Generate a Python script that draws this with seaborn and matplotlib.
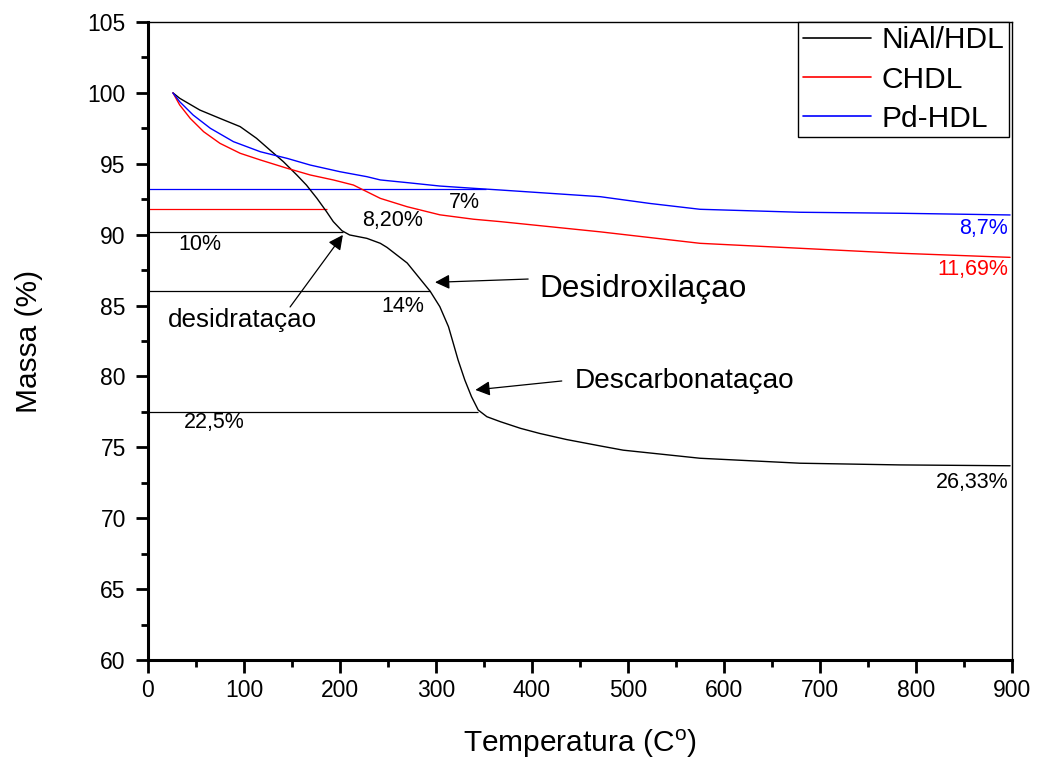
import matplotlib
matplotlib.use("Agg")
import matplotlib.pyplot as plt
import seaborn as sns
import pandas as pd
from matplotlib.ticker import MultipleLocator

# ---------------- data ----------------
series_names = ["NiAl/HDL", "CHDL", "Pd-HDL"]
series_colors = ["black", "red", "blue"]

temp_nial = [26, 33, 54, 75, 96, 113, 127, 141, 155, 165, 176, 186, 193, 202,
             210, 228, 242, 249, 270, 294, 304, 313, 318, 323, 330, 337, 344,
             353, 367, 388, 408, 436, 471, 495, 575, 679, 783, 898]
mass_nial = [100, 99.62, 98.79, 98.2, 97.62, 96.8, 95.97, 95.15, 94.21, 93.5,
             92.56, 91.62, 90.92, 90.28, 89.98, 89.74, 89.39, 89.1, 88.0, 86.0,
             84.92, 83.51, 82.34, 81.16, 79.75, 78.57, 77.63, 77.16, 76.81,
             76.34, 75.98, 75.55, 75.1, 74.8, 74.23, 73.88, 73.76, 73.7]

temp_chdl = [26, 33, 44, 58, 75, 96, 117, 145, 169, 193, 214, 228, 242, 270,
             304, 339, 367, 471, 575, 679, 783, 898]
mass_chdl = [100, 99.15, 98.2, 97.26, 96.44, 95.74, 95.27, 94.68, 94.21, 93.86,
             93.5, 93.03, 92.56, 91.97, 91.4, 91.09, 90.92, 90.2, 89.39, 89.04,
             88.69, 88.4]

temp_pd = [26, 33, 47, 65, 89, 117, 145, 169, 200, 228, 242, 270, 304, 339, 367,
           471, 523, 575, 679, 783, 898]
mass_pd = [100, 99.38, 98.44, 97.5, 96.56, 95.85, 95.38, 94.91, 94.44, 94.09,
           93.86, 93.67, 93.43, 93.27, 93.15, 92.68, 92.2, 91.79, 91.58, 91.51,
           91.39]

# horizontal reference lines: level, end temperature, colour
ref_levels = [93.2, 91.8, 90.2, 86.0, 77.5]
ref_ends = [352, 186, 203, 294, 344]
ref_colors = ["blue", "red", "black", "black", "black"]

# percentage labels: text, x, y, colour, alignment
pct_texts = ["10%", "8,20%", "7%", "14%", "22,5%", "26,33%", "11,69%", "8,7%"]
pct_x = [54, 255, 330, 265, 69, 896, 896, 896]
pct_y = [89.34, 91.0, 92.3, 84.9, 76.72, 72.49, 87.51, 90.47]
pct_colors = ["black", "black", "black", "black", "black", "black", "red", "blue"]
pct_ha = ["center", "center", "center", "center", "center", "right", "right", "right"]

# arrow annotations: text, text pos, arrow tail, arrow tip, fontsize
ann_texts = ["desidrataçao", "Desidroxilaçao", "Descarbonataçao"]
ann_text_xy = [(98, 83.98), (408, 86.17), (445, 79.68)]
ann_tail_xy = [(148, 84.9), (396, 86.87), (431, 79.68)]
ann_tip_xy = [(203, 89.98), (299, 86.64), (341, 79.05)]
ann_sizes = [18.7, 22.7, 20.2]
ann_ha = ["center", "left", "left"]

x_ticks = list(range(0, 901, 100))
y_ticks = list(range(60, 106, 5))

# ---------------- build frame ----------------
df = pd.concat([
    pd.DataFrame({"Temperatura": temp_nial, "Massa": mass_nial, "Amostra": series_names[0]}),
    pd.DataFrame({"Temperatura": temp_chdl, "Massa": mass_chdl, "Amostra": series_names[1]}),
    pd.DataFrame({"Temperatura": temp_pd, "Massa": mass_pd, "Amostra": series_names[2]}),
], ignore_index=True)

sns.set_style("white")
plt.rcParams["font.family"] = ["Liberation Sans", "DejaVu Sans"]
plt.rcParams["mathtext.default"] = "regular"
plt.rcParams["text.color"] = "black"
plt.rcParams["axes.labelcolor"] = "black"
plt.rcParams["xtick.color"] = "black"
plt.rcParams["ytick.color"] = "black"

fig = plt.figure(figsize=(10.37, 7.63), dpi=100)
ax = fig.add_axes([148 / 1037, 1 - 660 / 763, (1012 - 148) / 1037, (660 - 22) / 763])

sns.lineplot(data=df, x="Temperatura", y="Massa", hue="Amostra",
             hue_order=series_names, palette=series_colors,
             estimator=None, sort=False, linewidth=1.0, ax=ax)

for lvl, xe, c in zip(ref_levels, ref_ends, ref_colors):
    ax.hlines(lvl, 0, xe, colors=c, linewidth=0.9, zorder=1)

for t, x, y, c, ha in zip(pct_texts, pct_x, pct_y, pct_colors, pct_ha):
    ax.text(x, y, t, color=c, fontsize=15.5, ha=ha, va="center")

for t, txy, tail, tip, fs, ha in zip(ann_texts, ann_text_xy, ann_tail_xy,
                                      ann_tip_xy, ann_sizes, ann_ha):
    ax.text(txy[0], txy[1], t, fontsize=fs, ha=ha, va="center", color="black")
    ax.annotate("", xy=tip, xytext=tail,
                arrowprops=dict(arrowstyle="-|>", color="black", lw=0.9,
                                mutation_scale=22, shrinkA=0, shrinkB=0))

ax.set_xlim(0, 900)
ax.set_ylim(60, 105)
ax.set_xticks(x_ticks)
ax.set_yticks(y_ticks)
ax.xaxis.set_minor_locator(MultipleLocator(50))
ax.yaxis.set_minor_locator(MultipleLocator(2.5))
ax.tick_params(axis="both", which="major", direction="out", length=9, width=2,
               labelsize=16.5, colors="black", bottom=True, left=True,
               top=False, right=False)
ax.tick_params(axis="x", which="major", pad=5)
ax.tick_params(axis="y", which="major", pad=7)
ax.tick_params(axis="both", which="minor", direction="out", length=5, width=2,
               bottom=True, left=True, top=False, right=False)

for side in ["left", "bottom"]:
    ax.spines[side].set_linewidth(2.2)
    ax.spines[side].set_color("black")
for side in ["top", "right"]:
    ax.spines[side].set_linewidth(1.0)
    ax.spines[side].set_color("black")

ax.set_xlabel("Temperatura (C$^{o}$)", fontsize=21.5, color="black")
ax.set_ylabel("Massa (%)", fontsize=21.5, color="black")
ax.xaxis.set_label_coords(0.5, -0.106)
ax.yaxis.set_label_coords(-0.1215, 0.5)

handles, labels = ax.get_legend_handles_labels()
leg = ax.legend(handles, labels, loc="upper right",
                bbox_to_anchor=(1009 / 1037, 1 - 22 / 763),
                bbox_transform=fig.transFigure, borderaxespad=0,
                fontsize=21.5, frameon=True, fancybox=False, framealpha=1,
                edgecolor="black", handlelength=2.3, handletextpad=0.35,
                labelspacing=0.37, borderpad=0.15)
leg.get_frame().set_linewidth(1.0)
for line in leg.get_lines():
    line.set_linewidth(1.2)
for txt in leg.get_texts():
    txt.set_color("black")

fig.savefig("out.png", dpi=100)
